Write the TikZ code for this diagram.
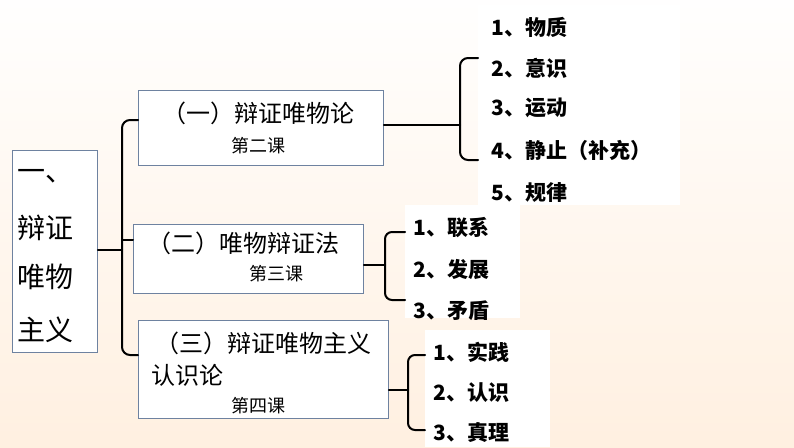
\documentclass[tikz,border=0pt]{standalone}
\usepackage{fontspec}
\newfontfamily\cjk{Noto Sans CJK SC}
\definecolor{bord}{RGB}{110,130,160}
\begin{document}
\begin{tikzpicture}[x=1pt,y=-1pt,
  box/.style={draw=bord,fill=white,line width=0.9pt,inner sep=0pt},
  panel/.style={fill=white,inner sep=0pt},
  item/.style={font=\cjk\bfseries\fontsize{21}{21}\selectfont,anchor=west},
  ttl/.style={font=\cjk\fontsize{24}{24}\selectfont},
  sub/.style={font=\cjk\fontsize{18}{18}\selectfont},
  big/.style={font=\cjk\fontsize{28}{28}\selectfont,anchor=west},
  br/.style={line width=2pt,line cap=round}]
\shade[top color=white!95!orange!8,bottom color=orange!12!white] (0,0) rectangle (794,447);
\useasboundingbox (0,0) rectangle (794,447);
% left box
\node[box,minimum width=85,minimum height=202,anchor=north west] (L) at (12,150) {};
\node[big] (l1) at (14,176) {一、};
\node[big] (l2) at (14,228) {辩证};
\node[big] (l3) at (14,277) {唯物};
\node[big] (l4) at (14,330) {主义};
% boxes
\node[box,minimum width=245,minimum height=75,anchor=north west] (B1) at (138,90) {};
\node[ttl] (t1) at (258,113) {（一）辩证唯物论};
\node[sub] (s1) at (258,146) {第二课};
\node[box,minimum width=230,minimum height=69,anchor=north west] (B2) at (133,224) {};
\node[ttl] (t2) at (243,243) {（二）唯物辩证法};
\node[sub] (s2) at (276,274) {第三课};
\node[box,minimum width=250,minimum height=98,anchor=north west] (B3) at (138,320) {};
\node[ttl] (t3) at (263,343) {（三）辩证唯物主义};
\node[ttl,anchor=west] (t3b) at (148,375) {认识论};
\node[sub] (s3) at (258,406) {第四课};
% panels
\node[panel,minimum width=202,minimum height=200,anchor=north west] (P1) at (478,5) {};
\node[item] (a1) at (488,27) {1、物质};
\node[item] (a2) at (488,68) {2、意识};
\node[item] (a3) at (488,108) {3、运动};
\node[item] (a4) at (488,150) {4、静止（补充）};
\node[item] (a5) at (488,193) {5、规律};
\node[panel,minimum width=115,minimum height=113,anchor=north west] (P2) at (405,205) {};
\node[item] (b1) at (410,228) {1、联系};
\node[item] (b2) at (410,270) {2、发展};
\node[item] (b3) at (410,311) {3、矛盾};
\node[panel,minimum width=125,minimum height=117,anchor=north west] (P3) at (425,330) {};
\node[item] (c1) at (430,352) {1、实践};
\node[item] (c2) at (430,393) {2、认识};
\node[item] (c3) at (430,433) {3、真理};
% big brace
\draw[br] (L.east|-0,250) -- (122,250);
\draw[br,rounded corners=8] (B1.west|-0,120) -- (122,120) -- (122,355) -- (B3.west|-0,355);
\draw[br] (122,240) -- (B2.west|-0,240);
% brace 1
\draw[br] (B1.east|-0,125) -- (460,125);
\draw[br,rounded corners=8] (478,58) -- (460,58) -- (460,160) -- (478,160);
% brace 2
\draw[br] (B2.east|-0,265) -- (385,265);
\draw[br,rounded corners=7] (405,232) -- (385,232) -- (385,300) -- (405,300);
% brace 3
\draw[br] (B3.east|-0,390) -- (408,390);
\draw[br,rounded corners=7] (425,355) -- (408,355) -- (408,430) -- (425,430);
\end{tikzpicture}
\end{document}
